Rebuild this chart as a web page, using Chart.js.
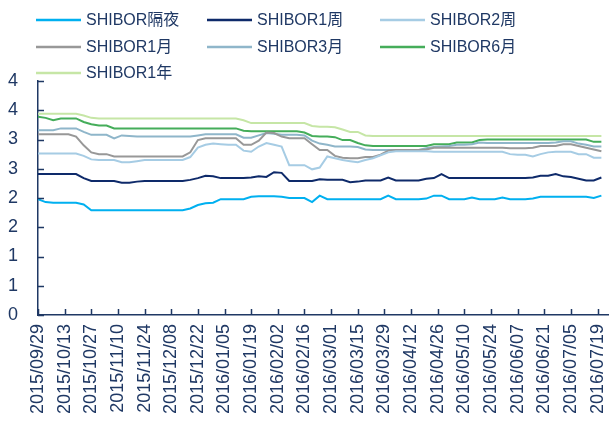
<!DOCTYPE html>
<html>
<head>
<meta charset="utf-8">
<script src="https://cdn.jsdelivr.net/npm/chart.js@4/dist/chart.umd.min.js"></script>
<style>
  html, body { margin: 0; padding: 0; background: #fff; }
  #wrap { width: 609px; height: 423px; position: relative; }
</style>
</head>
<body>
<div id="wrap"><canvas id="shiborChart"></canvas></div>
<script>
// Data: sampled every 4 days from the reference picture
const dates = [
  "2015-09-29","2015-10-03","2015-10-07","2015-10-11","2015-10-15","2015-10-19","2015-10-23","2015-10-27","2015-10-31","2015-11-04",
  "2015-11-08","2015-11-12","2015-11-16","2015-11-20","2015-11-24","2015-11-28","2015-12-02","2015-12-06","2015-12-10","2015-12-14",
  "2015-12-18","2015-12-22","2015-12-26","2015-12-30","2016-01-03","2016-01-07","2016-01-11","2016-01-15","2016-01-19","2016-01-23",
  "2016-01-27","2016-01-31","2016-02-04","2016-02-08","2016-02-12","2016-02-16","2016-02-20","2016-02-24","2016-02-28","2016-03-03",
  "2016-03-07","2016-03-11","2016-03-15","2016-03-19","2016-03-23","2016-03-27","2016-03-31","2016-04-04","2016-04-08","2016-04-12",
  "2016-04-16","2016-04-20","2016-04-24","2016-04-28","2016-05-02","2016-05-06","2016-05-10","2016-05-14","2016-05-18","2016-05-22",
  "2016-05-26","2016-05-30","2016-06-03","2016-06-07","2016-06-11","2016-06-15","2016-06-19","2016-06-23","2016-06-27","2016-07-01",
  "2016-07-05","2016-07-09","2016-07-13","2016-07-17","2016-07-21"
];

// Axis labels, every two weeks
const tickDates = [
  "2015-09-29","2015-10-13","2015-10-27","2015-11-10","2015-11-24","2015-12-08","2015-12-22","2016-01-05",
  "2016-01-19","2016-02-02","2016-02-16","2016-03-01","2016-03-15","2016-03-29","2016-04-12","2016-04-26",
  "2016-05-10","2016-05-24","2016-06-07","2016-06-21","2016-07-05","2016-07-19"
];

const shiborON = [
  1.98,1.93,1.92,1.92,1.92,1.92,1.89,1.79,1.79,1.79,
  1.79,1.79,1.79,1.79,1.79,1.79,1.79,1.79,1.79,1.79,
  1.82,1.88,1.91,1.92,1.98,1.98,1.98,1.98,2.02,2.03,
  2.03,2.03,2.02,2.00,2.00,2.00,1.93,2.04,1.98,1.98,
  1.98,1.98,1.98,1.98,1.98,1.98,2.04,1.98,1.98,1.98,
  1.98,1.99,2.04,2.04,1.98,1.98,1.98,2.01,1.98,1.98,
  1.98,2.01,1.98,1.98,1.98,1.99,2.02,2.02,2.02,2.02,
  2.02,2.02,2.02,2.00,2.04
];
const shibor1W = [
  2.41,2.41,2.41,2.41,2.41,2.41,2.34,2.29,2.29,2.29,
  2.29,2.26,2.26,2.28,2.29,2.29,2.29,2.29,2.29,2.29,
  2.31,2.34,2.38,2.37,2.34,2.34,2.34,2.34,2.35,2.37,
  2.36,2.44,2.43,2.29,2.29,2.29,2.29,2.32,2.31,2.31,
  2.31,2.27,2.28,2.30,2.30,2.30,2.35,2.30,2.30,2.30,
  2.30,2.33,2.34,2.41,2.34,2.34,2.34,2.34,2.34,2.34,
  2.34,2.34,2.34,2.34,2.34,2.35,2.38,2.38,2.41,2.37,
  2.36,2.33,2.30,2.30,2.35
];
const shibor2W = [
  2.76,2.76,2.76,2.76,2.76,2.76,2.72,2.66,2.65,2.65,
  2.65,2.61,2.61,2.63,2.65,2.65,2.65,2.65,2.65,2.65,
  2.70,2.86,2.91,2.93,2.92,2.91,2.91,2.81,2.79,2.88,
  2.94,2.91,2.88,2.56,2.56,2.56,2.49,2.52,2.71,2.68,
  2.65,2.63,2.61,2.65,2.68,2.73,2.78,2.80,2.80,2.80,
  2.80,2.80,2.79,2.79,2.79,2.79,2.79,2.79,2.79,2.79,
  2.79,2.79,2.75,2.74,2.74,2.71,2.75,2.78,2.79,2.79,
  2.79,2.75,2.75,2.69,2.69
];
const shibor1M = [
  3.09,3.09,3.09,3.09,3.09,3.05,2.90,2.78,2.75,2.75,
  2.71,2.71,2.71,2.71,2.71,2.71,2.71,2.71,2.71,2.71,
  2.78,2.99,3.02,3.02,3.02,3.02,3.02,2.91,2.91,2.98,
  3.12,3.11,3.05,3.02,3.02,3.02,2.92,2.82,2.82,2.72,
  2.69,2.68,2.68,2.70,2.70,2.74,2.81,2.82,2.82,2.82,
  2.82,2.83,2.86,2.86,2.86,2.86,2.86,2.86,2.86,2.86,
  2.86,2.86,2.85,2.85,2.85,2.86,2.89,2.89,2.89,2.92,
  2.92,2.89,2.86,2.83,2.80
];
const shibor3M = [
  3.16,3.16,3.16,3.19,3.19,3.19,3.13,3.08,3.08,3.08,
  3.02,3.07,3.06,3.05,3.05,3.05,3.05,3.05,3.05,3.05,
  3.05,3.07,3.09,3.09,3.09,3.09,3.09,3.03,3.03,3.07,
  3.11,3.10,3.08,3.08,3.08,3.07,2.98,2.93,2.91,2.88,
  2.88,2.88,2.87,2.83,2.82,2.82,2.82,2.82,2.82,2.82,
  2.82,2.85,2.87,2.88,2.89,2.91,2.91,2.92,2.95,2.94,
  2.94,2.94,2.94,2.94,2.94,2.94,2.94,2.94,2.95,2.97,
  2.97,2.93,2.91,2.88,2.88
];
const shibor6M = [
  3.39,3.37,3.33,3.36,3.36,3.36,3.30,3.26,3.24,3.24,
  3.19,3.19,3.19,3.19,3.19,3.19,3.19,3.19,3.19,3.19,
  3.19,3.19,3.19,3.19,3.19,3.19,3.19,3.15,3.14,3.14,
  3.14,3.14,3.14,3.14,3.14,3.12,3.06,3.05,3.05,3.04,
  2.99,2.99,2.94,2.90,2.89,2.89,2.89,2.89,2.89,2.89,
  2.89,2.89,2.92,2.92,2.92,2.95,2.95,2.95,2.99,3.00,
  3.00,3.00,3.00,3.00,3.00,3.00,3.00,3.00,3.00,3.00,
  3.00,3.00,3.00,2.96,2.96
];
const shibor1Y = [
  3.44,3.44,3.44,3.44,3.44,3.44,3.41,3.37,3.36,3.36,
  3.36,3.36,3.36,3.36,3.36,3.36,3.36,3.36,3.36,3.36,
  3.36,3.36,3.36,3.36,3.36,3.36,3.36,3.33,3.28,3.28,
  3.28,3.28,3.28,3.28,3.28,3.28,3.23,3.22,3.22,3.21,
  3.17,3.13,3.13,3.07,3.06,3.06,3.06,3.06,3.06,3.06,
  3.06,3.06,3.06,3.06,3.06,3.06,3.06,3.06,3.06,3.06,
  3.06,3.06,3.06,3.06,3.06,3.06,3.06,3.06,3.06,3.06,
  3.06,3.06,3.06,3.06,3.06
];

const seriesNames = ["SHIBOR隔夜", "SHIBOR1周", "SHIBOR2周", "SHIBOR1月", "SHIBOR3月", "SHIBOR6月", "SHIBOR1年"];
const seriesData = [shiborON, shibor1W, shibor2W, shibor1M, shibor3M, shibor6M, shibor1Y];
const seriesColors = ["#00B0F0", "#0E2A6A", "#A6CCE4", "#989898", "#8FB6CA", "#45AD5A", "#C6E6A6"];

const axisColor = "#1F3864";
const fontFamily = '"Liberation Sans", Arial, "Noto Sans CJK SC", sans-serif';
const startDay = Date.UTC(2015, 8, 29);
const DAY = 86400000;

/* ---------- HELPERS ---------- */
const dayOffset = s => (Date.parse(s) - startDay) / DAY;
const pad2 = n => String(n).padStart(2, "0");
function fmtDay(v) {
    const d = new Date(startDay + v * DAY);
    return `${d.getUTCFullYear()}/${pad2(d.getUTCMonth() + 1)}/${pad2(d.getUTCDate())}`;
}

/* ---------- LEGEND + INWARD TICKS ---------- */
const legendItems = {
    id: "legendItems",
    afterDraw(chart) {
        const ctx = chart.ctx;
        const { left, bottom } = chart.chartArea;
        ctx.save();

        ctx.strokeStyle = axisColor;
        ctx.lineWidth = 1.5;
        ctx.beginPath();
        chart.scales.y.ticks.forEach(t => {
            const py = Math.round(chart.scales.y.getPixelForValue(t.value)) + 0.5;
            ctx.moveTo(left, py); ctx.lineTo(left + 6, py);
        });
        chart.scales.x.ticks.forEach(t => {
            const px = Math.round(chart.scales.x.getPixelForValue(t.value)) + 0.5;
            ctx.moveTo(px, bottom); ctx.lineTo(px, bottom - 6);
        });
        ctx.stroke();

        const colX = [36, 207, 380];
        const rowY = [20, 47, 73];
        ctx.font = `16px ${fontFamily}`;
        ctx.textBaseline = "middle";
        ctx.textAlign = "left";
        chart.data.datasets.forEach((ds, i) => {
            const x = colX[i % 3], y = rowY[Math.floor(i / 3)];
            ctx.strokeStyle = ds.borderColor;
            ctx.lineWidth = 2.5;
            ctx.beginPath(); ctx.moveTo(x, y); ctx.lineTo(x + 45, y); ctx.stroke();
            ctx.fillStyle = axisColor;
            ctx.fillText(ds.label, x + 50, y + 1);
        });
        ctx.restore();
    }
};

/* ---------- CHART ---------- */
new Chart(document.getElementById("shiborChart"), {
    type: "line",
    data: {
        datasets: seriesNames.map((name, i) => ({
            label: name,
            data: seriesData[i].map((v, k) => ({ x: dayOffset(dates[k]), y: v })),
            borderColor: seriesColors[i],
            backgroundColor: seriesColors[i],
            borderWidth: 2,
            pointRadius: 0,
            tension: 0
        }))
    },
    options: {
        responsive: true,
        maintainAspectRatio: false,
        animation: false,
        devicePixelRatio: 1,
        layout: { padding: { top: 81, right: 0, left: 0, bottom: 0 } },
        plugins: { legend: { display: false }, tooltip: { enabled: false } },
        scales: {
            x: {
                type: "linear",
                min: 0,
                max: 300,
                afterBuildTicks: s => { s.ticks = tickDates.map(d => ({ value: dayOffset(d) })); },
                afterFit: s => { s.height = 108; s.paddingLeft = 0; s.paddingRight = 0; },
                grid: { display: false, drawTicks: false },
                border: { color: axisColor, width: 1.5 },
                ticks: {
                    autoSkip: false,
                    maxRotation: 90,
                    minRotation: 90,
                    padding: 9,
                    color: axisColor,
                    font: { family: fontFamily, size: 18 },
                    callback: v => fmtDay(v)
                }
            },
            y: {
                min: 0,
                max: 4,
                afterFit: s => { s.width = 38; },
                grid: { display: false, drawTicks: false },
                border: { color: axisColor, width: 1.5 },
                ticks: {
                    stepSize: 0.5,
                    padding: 20,
                    color: axisColor,
                    font: { family: fontFamily, size: 18 },
                    callback: v => Math.round(v)
                }
            }
        }
    },
    plugins: [legendItems]
});
</script>
</body>
</html>
